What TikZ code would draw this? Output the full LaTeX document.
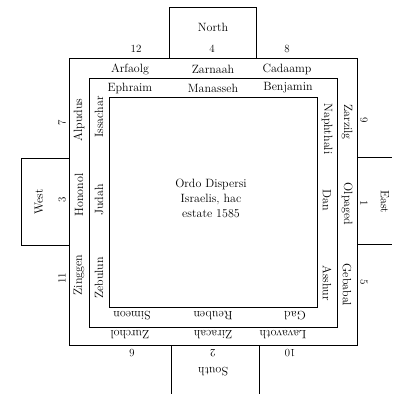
\documentclass[tikz,border=0pt]{standalone}
\usepackage{tikz}
\usetikzlibrary{positioning}

\begin{document}
\begin{tikzpicture}[
    x=1pt, y=1pt,
    wall/.style={draw, line width=0.9pt},
    lbl/.style={inner sep=0pt, font=\fontsize{12}{14}\selectfont},
    num/.style={inner sep=0pt, font=\fontsize{11}{13}\selectfont},
    up/.style={rotate=90},
    down/.style={rotate=-90},
    flip/.style={rotate=180}
]
\useasboundingbox (0,0) rectangle (392,-394);

% Three nested squares of the camp
\draw[wall] (69,-58) rectangle (357,-345);
\draw[wall] (89,-78) rectangle (337,-327);
\draw[wall] (109,-97) rectangle (317,-307);

% Gates on the four sides
\draw[wall] (169,-58) -- (169,-7) -- (256,-7) -- (256,-58);
\draw[wall] (171,-345) -- (171,-394);
\draw[wall] (259,-345) -- (259,-394);
\draw[wall] (69,-158) -- (21,-158) -- (21,-245) -- (69,-245);
\draw[wall] (357,-157) -- (392,-157);
\draw[wall] (357,-244) -- (392,-244);

% North side
\node[lbl] (north) at (213,-27) {North};
\node[num] (n12) at (136,-49) {12};
\node[num] (n4) at (212,-49) {4};
\node[num] (n8) at (287,-49) {8};
\node[lbl] (arfaolg) at (130,-69) {Arfaolg};
\node[lbl] (zarnaah) at (213,-69) {Zarnaah};
\node[lbl] (cadaamp) at (287,-69) {Cadaamp};
\node[lbl] (ephraim) at (130,-88) {Ephraim};
\node[lbl] (manasseh) at (213,-88) {Manasseh};
\node[lbl] (benjamin) at (288,-88) {Benjamin};

% West side
\node[lbl, up] (west) at (39,-202) {West};
\node[num, up] (n7) at (62,-123) {7};
\node[num, up] (n3) at (62,-200) {3};
\node[num, up] (n11) at (62,-278) {11};
\node[lbl, up] (alpudus) at (79,-120) {Alpudus};
\node[lbl, up] (hononol) at (79,-195) {Hononol};
\node[lbl, up] (zinggen) at (79,-275) {Zinggen};
\node[lbl, up] (issachar) at (99,-117) {Issachar};
\node[lbl, up] (judah) at (99,-200) {Judah};
\node[lbl, up] (zebulun) at (99,-278) {Zebulun};

% East side
\node[lbl, down] (east) at (385,-202) {East};
\node[num, down] (n9) at (364,-120) {9};
\node[num, down] (n1) at (364,-203) {1};
\node[num, down] (n5) at (364,-282) {5};
\node[lbl, down] (zarzilg) at (347,-122) {Zarzilg};
\node[lbl, down] (olpaged) at (347,-204) {Olpaged};
\node[lbl, down] (gebabal) at (347,-285) {Gebabal};
\node[lbl, down] (naphthali) at (327,-129) {Naphthali};
\node[lbl, down] (dan) at (327,-200) {Dan};
\node[lbl, down] (asshur) at (327,-283) {Asshur};

% South side
\node[lbl, flip] (south) at (213,-372) {South};
\node[num, flip] (n6) at (132,-353) {6};
\node[num, flip] (n2) at (213,-353) {2};
\node[num, flip] (n10) at (290,-353) {10};
\node[lbl, flip] (zurchol) at (130,-335) {Zurchol};
\node[lbl, flip] (ziracah) at (213,-335) {Ziracah};
\node[lbl, flip] (lavavoth) at (283,-335) {Lavavoth};
\node[lbl, flip] (simeon) at (132,-316) {Simeon};
\node[lbl, flip] (reuben) at (213,-316) {Reuben};
\node[lbl, flip] (gad) at (295,-316) {Gad};

% Title in the middle
\node[lbl, align=center, font=\fontsize{12}{15}\selectfont] (title) at (211,-198)
    {Ordo Dispersi\\Israelis, hac\\estate 1585};

\end{tikzpicture}
\end{document}
